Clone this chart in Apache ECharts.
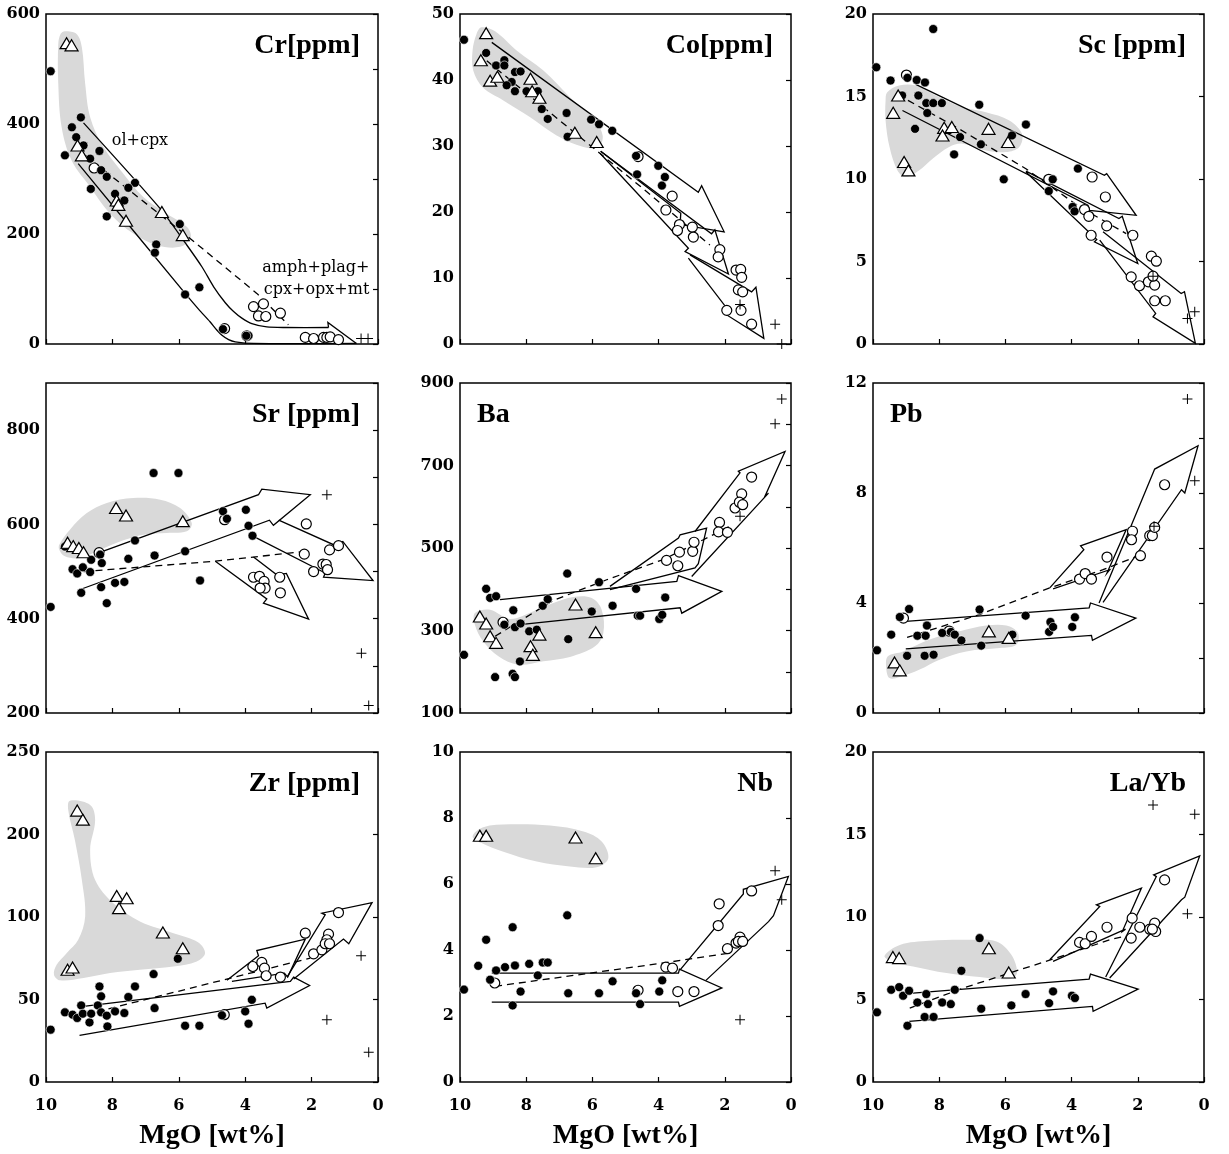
<!DOCTYPE html>
<html><head><meta charset="utf-8">
<script src="https://cdn.jsdelivr.net/npm/echarts@6/dist/echarts.min.js"></script>
<style>html,body{margin:0;padding:0;background:#fff}#c{width:1229px;height:1154px}</style>
</head><body><div id="c"></div><script>
// ---------- x axis ----------
const mgoTicks = [10, 8, 6, 4, 2, 0];
const xTitle = 'MgO [wt%]';

// ---------- Cr ----------
const crFilled = [[9.86,496],[9.43,343],[8.95,412],[9.22,394],[9.09,376],[8.87,361],[8.67,337],[8.39,351],[8.34,316],[8.17,304],[7.32,293],[7.52,284],[8.65,282],[7.92,273],[7.64,261],[8.17,232],[5.97,218],[6.68,181],[6.72,166],[5.38,103],[5.81,90],[4.67,27],[3.90,15],[3.97,15]];
const crOpen = [[3.75,68],[3.45,73],[3.6,51],[3.38,50],[2.94,56],[2.19,12],[1.94,10],[1.64,12],[1.54,12],[1.44,13],[1.19,8],[4.62,28],[3.95,15],[8.55,320]];
const crTri = [[9.38,547],[9.23,543],[9.05,361],[8.92,343],[7.87,261],[7.82,253],[7.59,224],[6.51,240],[5.88,198]];
const crPlus = [[0.51,10],[0.30,10]];
const crGray = [[9.43,568.6],[9.08,563.7],[8.92,539.5],[8.82,473],[8.67,412.5],[8.27,358],[7.67,309.7],[7.07,267.3],[6.36,237],[5.76,213],[5.64,193.6],[5.96,176.6],[6.66,179.6],[7.37,200.8],[8.07,237],[8.67,285.5],[9.23,333.9],[9.53,394.4],[9.63,473],[9.63,545.6],[9.56,563.7]];
const crCurveUpper = [[8.87,402],[6.56,246],[5.76,180],[5.30,140],[4.95,104],[4.60,75],[4.35,59],[4.10,47],[3.80,37],[3.35,31],[2.80,30],[1.49,30]];
const crCurveLower = [[9.03,328],[5.81,92],[5.40,63],[5.06,40.5],[4.85,25],[4.70,16],[4.50,8],[4.30,4],[3.75,1],[0.65,1]];
const crHead = [[1.49,30],[1.51,39],[0.65,1]];
const crDash = [[8.82,343],[5.66,192],[3.65,92],[2.70,35]];
const crNoteText = ['ol+cpx', 'amph+plag+', 'cpx+opx+mt'];
const crNoteAt = [[7.17,370],[1.87,138],[1.85,98]];

// ---------- Co ----------
const coFilled = [[9.88,46.1],[9.21,44.1],[8.91,42.2],[8.66,43.0],[8.66,42.2],[8.44,39.7],[8.34,41.2],[8.17,41.3],[8.34,38.3],[8.59,39.2],[7.65,38.3],[7.53,35.6],[7.35,34.1],[6.78,35.0],[6.75,31.4],[6.04,34.0],[5.80,33.3],[5.40,32.3],[4.68,28.5],[4.65,25.7],[4.01,27.0],[3.81,25.3],[3.90,24.0],[7.99,38.3]];
const coOpen = [[3.59,22.4],[3.78,20.3],[3.37,18.1],[3.43,17.2],[2.98,17.7],[2.95,16.2],[2.15,14.3],[2.20,13.2],[1.66,11.2],[1.52,11.3],[1.49,10.1],[1.59,8.2],[1.46,7.9],[1.94,5.1],[1.51,5.1],[1.19,3.0],[4.62,28.4]];
const coTri = [[9.21,47.1],[9.37,43.0],[9.09,39.9],[8.87,40.5],[7.87,40.2],[7.82,38.3],[7.60,37.3],[6.53,32.0],[5.87,30.6]];
const coPlus = [[1.54,6.0],[0.48,3.0],[0.28,0]];
const coGray = [[9.35,47.98],[8.94,47.38],[8.29,44.46],[7.48,41.43],[6.68,37.40],[5.97,34.12],[5.69,31.60],[5.82,29.84],[6.27,29.84],[7.08,31.60],[7.89,34.38],[8.69,36.90],[9.30,38.81],[9.60,41.43],[9.62,44.46],[9.50,46.98]];
const coArrowA = [[9.04,45.7],[2.80,23.0],[2.70,24.0],[2.02,17.0],[3.35,18.1],[3.33,19.8],[5.75,29.2]];
const coArrowB = [[5.75,29.2],[2.40,16.7],[2.30,17.3],[1.89,10.6],[3.20,14.0],[3.10,14.5],[5.77,28.9]];
const coArrowC = [[3.05,13.5],[1.19,7.9],[1.06,8.6],[0.82,0.86],[1.94,4.4],[1.86,4.9],[3.10,13.0]];
const coDash = [[9.19,42.9],[6.68,32.6],[4.46,23.5],[2.45,15.0]];

// ---------- Sc ----------
const scFilled = [[9.90,16.77],[8.18,19.09],[9.47,15.97],[8.96,16.13],[8.68,16.0],[8.43,15.85],[8.63,15.06],[8.39,14.6],[8.18,14.6],[7.92,14.6],[8.36,14.0],[8.73,13.04],[7.55,11.49],[7.37,12.54],[6.79,14.5],[6.74,12.1],[5.80,12.64],[5.38,13.3],[6.05,9.98],[4.69,9.27],[4.57,9.98],[3.81,10.63],[3.97,8.31],[3.91,8.04],[9.12,15.06]];
const scOpen = [[3.38,10.12],[2.98,8.91],[3.61,8.15],[3.48,7.74],[2.94,7.16],[3.41,6.59],[2.15,6.59],[1.59,5.32],[1.44,5.02],[2.20,4.07],[1.95,3.53],[1.68,3.77],[1.49,3.57],[1.54,4.11],[1.49,2.62],[1.17,2.62],[4.69,9.98],[8.99,16.3]];
const scTri = [[9.24,15.06],[9.39,14.01],[9.06,11.03],[8.93,10.52],[7.85,13.1],[7.62,13.15],[7.90,12.64],[6.51,13.04],[5.92,12.24]];
const scPlus = [[1.54,4.11],[0.50,1.55],[0.28,1.96]];
const scGray = [[9.57,15.26],[9.21,15.67],[8.71,15.67],[8.10,15.06],[7.30,14.35],[6.59,14.05],[5.88,13.55],[5.50,12.74],[5.58,11.94],[5.98,11.63],[6.59,11.73],[7.30,12.14],[7.70,11.94],[8.20,11.23],[8.61,10.52],[9.01,10.12],[9.26,10.52],[9.50,11.94],[9.62,13.55],[9.62,14.76]];
const scArrowA = [[8.71,15.73],[3.01,10.22],[2.94,10.32],[2.05,7.80],[3.46,8.10],[3.51,8.41],[9.11,14.15]];
const scArrowB = [[5.38,10.48],[2.57,7.60],[2.47,7.74],[2.00,4.88],[3.31,6.19],[3.24,6.33],[5.38,10.42]];
const scArrowC = [[3.05,6.8],[0.69,3.06],[0.59,3.17],[0.26,0.04],[1.54,1.65],[1.46,1.85],[3.15,6.3]];
const scDash = [[9.26,15.12],[7.40,13.04],[5.38,10.62],[3.76,8.31],[2.35,6.69]];

// ---------- Sr ----------
const srFilled = [[9.86,425],[6.76,709],[6.01,709],[9.43,553],[9.20,505],[9.06,496],[8.89,509],[8.67,499],[8.64,525],[8.37,536],[8.32,518],[8.34,467],[8.17,433],[7.92,476],[7.64,478],[8.94,455],[7.32,566],[7.52,527],[6.73,534],[5.81,543],[5.36,481],[4.67,628],[4.55,612],[3.98,631],[3.90,597],[3.78,576]];
const srOpen = [[2.16,601],[2.22,537],[1.94,500],[1.66,516],[1.56,515],[1.46,546],[1.19,555],[1.52,504],[3.75,488],[3.57,490],[3.43,479],[3.40,465],[3.55,465],[2.96,488],[2.94,455],[4.62,610],[8.4,540]];
const srTri = [[9.35,561],[9.18,554],[9.01,550],[8.87,541],[7.89,635],[7.59,619],[5.88,607]];
const srPlus = [[1.54,663],[0.50,327],[0.28,216]];
const srGray = [[9.60,557.1],[9.28,588.9],[8.77,624.2],[8.17,645.5],[7.37,656],[6.56,652.5],[5.96,634.8],[5.61,603],[5.76,585.4],[6.36,581.8],[7.07,578.3],[7.67,566.3],[8.37,546.5],[8.97,528.8],[9.43,532.3],[9.60,546.5]];
const srArrowA = [[8.52,537],[3.60,663],[3.50,675],[2.04,663],[3.15,598],[3.27,609],[8.97,462]];
const srArrowB = [[2.99,609],[1.34,557],[1.06,564],[0.15,481],[1.64,488],[1.59,497],[3.90,580]];
const srArrowC = [[3.75,531],[3.05,493],[2.76,496],[2.09,399],[3.45,433],[3.35,442],[4.90,522]];
const srDash = [[8.87,500],[4.90,522],[2.04,544]];

// ---------- Ba ----------
const baFilled = [[9.88,241],[9.21,401],[9.09,379],[8.91,383],[8.94,187],[8.66,314],[8.41,195],[8.34,187],[8.39,349],[8.34,308],[8.17,317],[8.19,225],[7.91,298],[7.68,302],[7.50,360],[7.35,376],[6.76,438],[6.73,279],[6.02,346],[5.80,417],[5.39,360],[4.68,401],[4.63,336],[4.56,336],[3.98,328],[3.89,338],[3.80,380]];
const baOpen = [[3.76,470],[3.42,457],[3.37,490],[2.97,492],[2.93,514],[2.16,562],[2.19,539],[1.92,538],[1.69,597],[1.49,631],[1.56,611],[1.46,605],[1.19,672],[8.70,320]];
const baTri = [[9.40,334],[9.21,317],[9.09,286],[8.91,270],[7.87,262],[7.80,241],[7.60,290],[6.51,363],[5.90,296]];
const baPlus = [[0.28,861],[0.48,801],[1.54,577]];
const baGray = [[9.55,342.4],[9.09,350.5],[8.49,327.9],[7.78,346.5],[7.18,366.7],[6.58,381.2],[6.02,378.8],[5.72,350.5],[5.67,293.9],[5.92,261.6],[6.68,235.8],[7.48,225.3],[8.24,217.2],[8.84,237.4],[9.30,273.7],[9.55,314.1]];
const baArrowA = [[8.79,375],[3.45,419],[3.40,433],[2.09,395],[3.30,342],[3.35,355],[8.19,314]];
const baArrowB = [[5.47,407],[3.40,524],[3.35,532],[2.55,548],[2.80,462],[2.90,452],[5.47,399]];
const baArrowC = [[2.90,540],[1.54,682],[1.59,686],[0.18,734],[0.79,625],[0.68,633],[3.00,431]];
const baDash = [[8.94,286],[7.18,373],[5.57,423],[3.86,472],[2.65,520],[1.84,553]];

// ---------- Pb ----------
const pbFilled = [[9.88,2.28],[9.45,2.85],[9.19,3.49],[8.91,3.78],[8.97,2.08],[8.66,2.81],[8.41,2.81],[8.37,3.18],[8.44,2.08],[8.17,2.12],[7.91,2.91],[7.65,2.95],[7.53,2.85],[7.33,2.64],[6.78,3.76],[6.73,2.45],[5.79,2.85],[5.39,3.54],[4.64,3.31],[4.68,2.95],[4.56,3.13],[3.98,3.13],[3.90,3.48]];
const pbOpen = [[3.76,4.87],[3.59,5.07],[3.40,4.87],[2.93,5.67],[2.16,6.61],[2.19,6.30],[1.92,5.72],[1.64,6.45],[1.56,6.45],[1.49,6.75],[1.19,8.30],[9.08,3.45],[7.70,2.98]];
const pbTri = [[9.35,1.84],[9.19,1.55],[6.50,2.97],[5.90,2.73]];
const pbPlus = [[0.50,11.42],[0.28,8.45],[1.51,6.79]];
const pbGray = [[9.55,2.06],[9.09,2.24],[8.29,2.67],[7.38,2.97],[6.58,3.18],[5.97,3.18],[5.62,2.91],[5.67,2.48],[6.17,2.36],[7.18,2.24],[7.99,1.94],[8.59,1.58],[9.19,1.31],[9.50,1.27],[9.60,1.64]];
const pbArrowA = [[9.01,3.33],[3.47,3.82],[3.43,4.0],[2.06,3.45],[3.37,2.64],[3.40,2.82],[9.01,2.33]];
const pbArrowB = [[4.66,4.55],[3.63,5.94],[3.73,6.08],[2.35,6.67],[2.93,5.09],[2.85,5.21],[4.56,4.51]];
const pbArrowC = [[3.17,4.0],[1.54,8.73],[1.49,8.87],[0.18,9.72],[0.58,8.0],[0.68,8.12],[3.05,4.02]];
const pbDash = [[8.97,2.75],[6.78,3.58],[4.66,4.55],[3.05,5.21],[2.15,5.64],[1.79,5.76]];

// ---------- Zr (values in the printed tick units) ----------
const zrTickLabels = ['0', '50', '100', '200', '250'];
const zrTickValues = [0, 50, 100, 200, 250];
const zrFilled = [[9.86,31.7],[9.43,42.2],[9.20,40.8],[9.06,38.8],[8.94,46.4],[8.89,41.4],[8.69,36.1],[8.64,41.4],[8.39,57.9],[8.44,46.4],[8.34,51.9],[8.34,42.2],[8.17,40.2],[8.15,33.7],[7.92,42.8],[7.64,41.8],[7.52,51.5],[7.32,57.9],[6.76,65.4],[6.73,44.8],[6.03,74.7],[5.81,34.1],[5.38,34.1],[4.70,40.4],[4.00,42.8],[3.80,49.8],[3.90,35.3]];
const zrOpen = [[4.63,40.8],[3.77,70],[3.50,72.5],[3.42,69],[3.37,64.4],[2.94,63.6],[2.19,90.2],[1.94,77.7],[1.69,80.1],[1.49,89.6],[1.54,86.2],[1.59,83.8],[1.46,83.8],[1.19,105.4]];
const zrTri = [[9.06,214.5],[8.89,209],[7.87,125.6],[7.57,122.8],[7.80,110.7],[6.48,90.6],[5.88,81.1],[9.35,68],[9.20,69.4]];
const zrPlus = [[0.51,76.5],[1.54,37.7],[0.28,18]];
const zrGray = [[9.28,220.5],[8.67,217.9],[8.52,208.8],[8.67,181.3],[8.52,145],[7.97,116.7],[7.17,97.3],[6.16,90.2],[5.41,84.6],[5.21,78.1],[5.46,73.1],[6.16,70],[7.17,68],[8.07,66],[8.87,63],[9.58,61.6],[9.76,65],[9.68,71],[9.38,78.1],[9.03,86.2],[8.82,100.6],[8.92,145],[9.13,193.4],[9.33,214.9]];
const zrArrowA = [[8.87,45.8],[2.64,61],[2.54,63.6],[2.06,58.5],[3.35,44.8],[3.40,47.8],[8.99,28.3]];
const zrArrowB = [[4.55,61.6],[3.60,76.5],[3.65,79.7],[2.19,86.6],[2.72,63.6],[2.82,66],[4.40,61]];
const zrArrowC = [[2.74,63.6],[1.59,102.6],[1.69,104.6],[0.18,117.5],[0.88,83.8],[1.04,86.6],[2.54,62.4]];
const zrDash = [[8.82,40.8],[2.04,75.1]];

// ---------- Nb ----------
const nbFilled = [[9.88,2.80],[9.45,3.52],[9.21,4.31],[9.09,3.10],[8.91,3.38],[8.64,3.48],[8.41,4.69],[8.41,2.32],[8.34,3.53],[8.17,2.74],[7.91,3.58],[7.65,3.23],[7.50,3.62],[7.35,3.62],[6.76,5.05],[6.73,2.69],[5.80,2.69],[5.39,3.05],[4.68,2.69],[4.56,2.36],[3.98,2.74],[3.89,3.08]];
const nbOpen = [[3.78,3.48],[3.58,3.45],[3.42,2.74],[2.93,2.74],[2.17,5.40],[2.20,4.74],[1.92,4.04],[1.66,4.21],[1.54,4.39],[1.59,4.26],[1.46,4.26],[1.19,5.79],[8.95,3.0],[4.62,2.78]];
const nbTri = [[9.40,7.46],[9.21,7.46],[6.51,7.41],[5.90,6.78]];
const nbPlus = [[0.48,6.40],[0.28,5.52],[1.54,1.89]];
const nbGray = [[9.62,7.44],[9.30,7.72],[8.49,7.81],[7.28,7.77],[6.27,7.59],[5.72,7.29],[5.52,6.78],[5.87,6.51],[6.68,6.53],[7.68,6.68],[8.69,6.98],[9.35,7.24]];
const nbArrowA = [[9.04,3.30],[3.40,3.30],[3.37,3.42],[2.09,2.85],[3.37,2.29],[3.40,2.42],[9.04,2.42]];
const nbArrowB = [[3.35,3.40],[1.44,5.70],[1.44,5.84],[0.08,6.23],[0.53,5.04],[0.68,4.86],[2.57,3.08]];
const nbDash = [[8.94,2.90],[3.76,3.62],[1.84,3.91]];

// ---------- La/Yb ----------
const lyFilled = [[9.88,4.22],[9.45,5.59],[9.21,5.75],[9.09,5.23],[8.91,5.53],[8.66,4.82],[8.96,3.41],[8.44,3.94],[8.17,3.94],[8.39,5.33],[8.34,4.72],[7.91,4.82],[7.65,4.72],[7.53,5.59],[7.33,6.74],[6.78,8.72],[6.73,4.44],[5.82,4.64],[5.39,5.33],[4.68,4.78],[4.56,5.49],[3.99,5.23],[3.90,5.09]];
const lyOpen = [[3.76,8.46],[3.59,8.38],[3.40,8.82],[2.93,9.38],[2.17,9.93],[2.20,8.72],[1.94,9.38],[1.64,9.26],[1.46,9.12],[1.49,9.63],[1.56,9.26],[1.19,12.25]];
const lyTri = [[9.40,7.57],[9.21,7.51],[6.50,8.11],[5.90,6.64]];
const lyPlus = [[1.54,16.79],[0.28,16.23],[0.50,10.19]];
const lyGray = [[9.65,7.65],[9.19,8.31],[8.29,8.56],[7.08,8.62],[6.27,8.52],[5.82,7.71],[5.65,6.60],[5.87,6.24],[6.78,6.36],[7.78,6.60],[8.79,7.00],[9.45,7.31]];
const lyArrowA = [[8.79,5.39],[3.47,6.24],[3.43,6.54],[1.99,5.63],[3.35,4.28],[3.37,4.58],[8.91,3.67]];
const lyArrowB = [[4.66,7.41],[3.15,10.64],[3.25,10.74],[1.89,11.75],[2.47,9.12],[2.37,9.26],[4.56,7.31]];
const lyArrowC = [[2.97,6.36],[1.44,12.45],[1.52,12.55],[0.13,13.70],[0.58,11.2],[0.68,11.04],[2.85,6.30]];
const lyDash = [[8.89,4.48],[7.28,5.69],[5.57,6.80],[4.56,7.45],[2.85,8.62],[2.20,8.92]];

// ---------- panel definitions ----------
function zrPos(v) {
  for (let k = 0; k < zrTickValues.length - 1; k++) {
    const a = zrTickValues[k], b = zrTickValues[k + 1];
    if (v <= b || k === zrTickValues.length - 2) return k + (v - a) / (b - a);
  }
}
const ident = v => v;
const panels = [
  {title:'Cr[ppm]', tAlign:'right', min:0, max:600, lab:200, tick:100, filled:crFilled, open:crOpen, tri:crTri, plus:crPlus, gray:[crGray], arrows:[crHead], curves:[crCurveUpper, crCurveLower], dash:[crDash]},
  {title:'Co[ppm]', tAlign:'right', min:0, max:50, lab:10, tick:10, filled:coFilled, open:coOpen, tri:coTri, plus:coPlus, gray:[coGray], arrows:[coArrowA, coArrowB, coArrowC], dash:[coDash]},
  {title:'Sc [ppm]', tAlign:'right', min:0, max:20, lab:5, tick:5, filled:scFilled, open:scOpen, tri:scTri, plus:scPlus, gray:[scGray], arrows:[scArrowA, scArrowB, scArrowC], dash:[scDash]},
  {title:'Sr [ppm]', tAlign:'right', min:200, max:900, lab:200, tick:100, filled:srFilled, open:srOpen, tri:srTri, plus:srPlus, gray:[srGray], arrows:[srArrowA, srArrowB, srArrowC], dash:[srDash]},
  {title:'Ba', tAlign:'left', min:100, max:900, lab:200, tick:100, filled:baFilled, open:baOpen, tri:baTri, plus:baPlus, gray:[baGray], arrows:[baArrowA, baArrowB, baArrowC], dash:[baDash]},
  {title:'Pb', tAlign:'left', min:0, max:12, lab:4, tick:2, filled:pbFilled, open:pbOpen, tri:pbTri, plus:pbPlus, gray:[pbGray], arrows:[pbArrowA, pbArrowB, pbArrowC], dash:[pbDash]},
  {title:'Zr [ppm]', tAlign:'right', min:0, max:4, lab:1, tick:1, yMap:zrPos, labels:zrTickLabels, filled:zrFilled, open:zrOpen, tri:zrTri, plus:zrPlus, gray:[zrGray], arrows:[zrArrowA, zrArrowB, zrArrowC], dash:[zrDash]},
  {title:'Nb', tAlign:'right', min:0, max:10, lab:2, tick:2, filled:nbFilled, open:nbOpen, tri:nbTri, plus:nbPlus, gray:[nbGray], arrows:[nbArrowA, nbArrowB], dash:[nbDash]},
  {title:'La/Yb', tAlign:'right', min:0, max:20, lab:5, tick:5, filled:lyFilled, open:lyOpen, tri:lyTri, plus:lyPlus, gray:[lyGray], arrows:[lyArrowA, lyArrowB, lyArrowC], dash:[lyDash]}
];

// ---------- layout / style ----------
const COL_LEFT = [46, 460, 873], COL_W = [332, 331, 331];
const ROW_TOP = [14, 383, 752], ROW_H = 330;
const TICK_FONT = {color:'#000', fontFamily:'DejaVu Serif', fontWeight:'bold', fontSize:16};
const TITLE_FONT = 'bold 28px "Liberation Serif", "Times New Roman", serif';
const NOTE_FONT = '16px "DejaVu Serif", serif';
const PLUS_PATH = 'path://M4.5,0H5.5V4.5H10V5.5H5.5V10H4.5V5.5H0V4.5H4.5Z';

const grids = [], xAxes = [], yAxes = [], series = [], graphics = [];

function shapeSeries(i, shapes, yMap, kind, smooth) {
  return {
    type:'custom', xAxisIndex:i, yAxisIndex:2*i, silent:true, animation:false,
    z: kind === 'gray' ? 1 : 2,
    data: shapes.map((s, k) => [s[0][0], yMap(s[0][1]), k]),
    renderItem: (params, api) => {
      const s = shapes[params.dataIndex];
      const pts = s.map(p => api.coord([p[0], yMap(p[1])]));
      if (kind === 'gray') {
        return {type:'polygon', shape:{points:pts, smooth:0.35}, style:{fill:'#d9d9d9', stroke:null}};
      }
      return {type:'polyline', shape:{points:pts, smooth:smooth || 0}, style:{fill:null, stroke:'#000', lineWidth:1.3}};
    }
  };
}

panels.forEach((p, i) => {
  const r = Math.floor(i / 3), c = i % 3;
  const L = COL_LEFT[c], T = ROW_TOP[r], W = COL_W[c], H = ROW_H;
  const yMap = p.yMap || ident;
  grids.push({left:L, top:T, width:W, height:H, show:true, borderColor:'#000', borderWidth:1.5,
              backgroundColor:'transparent', containLabel:false, outerBoundsMode:'none'});
  xAxes.push({gridIndex:i, type:'value', min:0, max:10, interval:2, inverse:true, position:'bottom',
    axisLine:{show:false}, splitLine:{show:false},
    axisTick:{show:true, inside:true, length:5, lineStyle:{color:'#000', width:1.2}},
    axisLabel:Object.assign({show: r === 2, margin:16, showMinLabel:true, showMaxLabel:true,
      formatter: v => (mgoTicks.indexOf(v) >= 0 ? String(v) : '')}, TICK_FONT)});
  yAxes.push({gridIndex:i, type:'value', min:p.min, max:p.max, interval:p.lab, position:'left',
    axisLine:{show:false}, axisTick:{show:false}, splitLine:{show:false},
    axisLabel:Object.assign({margin:6, showMinLabel:true, showMaxLabel:true,
      formatter: v => {
        if (Math.abs(((v - p.min) / p.lab) - Math.round((v - p.min) / p.lab)) > 1e-6) return '';
        return p.labels ? p.labels[Math.round(v)] : String(v);
      }}, TICK_FONT)});
  yAxes.push({gridIndex:i, type:'value', min:p.min, max:p.max, interval:p.tick, position:'right',
    axisLine:{show:false}, splitLine:{show:false}, axisLabel:{show:false},
    axisTick:{show:true, inside:true, length:5, lineStyle:{color:'#000', width:1.2}}});

  series.push(shapeSeries(i, p.gray, yMap, 'gray'));
  series.push(shapeSeries(i, p.arrows, yMap, 'line', 0));
  if (p.curves) series.push(shapeSeries(i, p.curves, yMap, 'line', 0.25));
  p.dash.forEach(d => series.push({type:'line', xAxisIndex:i, yAxisIndex:2*i, silent:true, animation:false, z:2,
    symbol:'none', data:d.map(q => [q[0], yMap(q[1])]),
    lineStyle:{color:'#000', width:1.3, type:[7,5]}}));
  const mk = q => [q[0], yMap(q[1])];
  series.push({type:'scatter', xAxisIndex:i, yAxisIndex:2*i, silent:true, animation:false, z:3,
    symbol:'circle', symbolSize:10, data:p.open.map(mk),
    itemStyle:{color:'#fff', borderColor:'#000', borderWidth:1.2, opacity:1}});
  series.push({type:'scatter', xAxisIndex:i, yAxisIndex:2*i, silent:true, animation:false, z:4,
    symbol:'circle', symbolSize:9, data:p.filled.map(mk),
    itemStyle:{color:'#000', borderColor:'#fff', borderWidth:0.6, opacity:1}});
  series.push({type:'scatter', xAxisIndex:i, yAxisIndex:2*i, silent:true, animation:false, z:5,
    symbol:'triangle', symbolSize:[13,11], data:p.tri.map(mk),
    itemStyle:{color:'#fff', borderColor:'#000', borderWidth:1.2, opacity:1}});
  series.push({type:'scatter', xAxisIndex:i, yAxisIndex:2*i, silent:true, animation:false, z:6,
    symbol:PLUS_PATH, symbolSize:10, data:p.plus.map(mk),
    itemStyle:{color:'#000', opacity:1}});

  // panel title
  const tx = p.tAlign === 'right' ? L + W - 18 : L + 17;
  graphics.push({type:'text', x:tx, y:T + 32, z:10, silent:true,
    style:{text:p.title, font:TITLE_FONT, fill:'#000', align:p.tAlign, textAlign:p.tAlign,
           verticalAlign:'middle', textVerticalAlign:'middle'}});
  // x axis title on bottom row
  if (r === 2) {
    graphics.push({type:'text', x:L + W / 2, y:1136, z:10, silent:true,
      style:{text:xTitle, font:TITLE_FONT, fill:'#000', align:'center', textAlign:'center',
             verticalAlign:'middle', textVerticalAlign:'middle'}});
  }
});

// notes in the Cr panel
series.push({type:'custom', xAxisIndex:0, yAxisIndex:0, silent:true, animation:false, z:7,
  data: crNoteAt.map((q, k) => [q[0], q[1], k]),
  renderItem: (params, api) => {
    const pt = api.coord(crNoteAt[params.dataIndex]);
    return {type:'text', x:pt[0], y:pt[1],
      style:{text:crNoteText[params.dataIndex], font:NOTE_FONT, fill:'#000', align:'center', textAlign:'center',
             verticalAlign:'middle', textVerticalAlign:'middle'}};
  }});

const chart = echarts.init(document.getElementById('c'), null, {renderer:'canvas'});
chart.setOption({
  animation:false, backgroundColor:'#fff',
  grid:grids, xAxis:xAxes, yAxis:yAxes, series:series, graphic:graphics
});
</script></body></html>
